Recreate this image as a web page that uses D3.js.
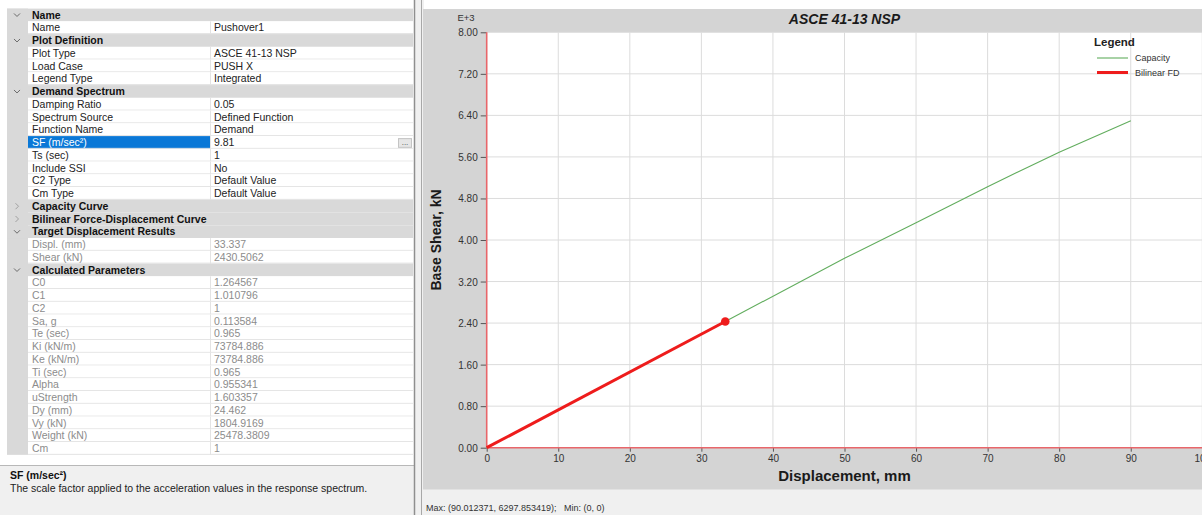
<!DOCTYPE html>
<html>
<head>
<meta charset="utf-8">
<script src="https://cdn.jsdelivr.net/npm/d3@7"></script>
<style>
  html, body { margin: 0; padding: 0; background: #ffffff; }
  svg { display: block; font-family: "Liberation Sans", Arial, sans-serif; }
</style>
</head>
<body>
<svg id="app" width="1202" height="515"></svg>
<script>
// ---- Property grid contents ----
const nameRows = [["Name", "Pushover1"]];
const plotDefRows = [["Plot Type", "ASCE 41-13 NSP"], ["Load Case", "PUSH X"], ["Legend Type", "Integrated"]];
const demandRows = [
  ["Damping Ratio", "0.05"], ["Spectrum Source", "Defined Function"], ["Function Name", "Demand"],
  ["SF (m/sec²)", "9.81"], ["Ts (sec)", "1"], ["Include SSI", "No"],
  ["C2 Type", "Default Value"], ["Cm Type", "Default Value"]
];
const targetRows = [["Displ. (mm)", "33.337"], ["Shear (kN)", "2430.5062"]];
const calcRows = [
  ["C0", "1.264567"], ["C1", "1.010796"], ["C2", "1"], ["Sa, g", "0.113584"], ["Te (sec)", "0.965"],
  ["Ki (kN/m)", "73784.886"], ["Ke (kN/m)", "73784.886"], ["Ti (sec)", "0.965"], ["Alpha", "0.955341"],
  ["uStrength", "1.603357"], ["Dy (mm)", "24.462"], ["Vy (kN)", "1804.9169"], ["Weight (kN)", "25478.3809"], ["Cm", "1"]
];
const selectedProperty = "SF (m/sec²)";

// ---- Chart data ----
const capacityDispl = [0, 10, 20, 33.337, 50, 60, 70, 74.3, 80, 90.012371];
const capacityShear = [0, 729, 1458, 2430.5062, 3647, 4330, 5026, 5315, 5690, 6297.853419];
const bilinearDispl = [0, 33.337];
const bilinearShear = [0, 2430.5062];
const targetPoint = [33.337, 2430.5062];
const xTicks = [0, 10, 20, 30, 40, 50, 60, 70, 80, 90, 100];
const yTicks = [0, 800, 1600, 2400, 3200, 4000, 4800, 5600, 6400, 7200, 8000];

const svg = d3.select("#app");

// ================= Property grid (left pane) =================
const grid = svg.append("g");
const rowH = 12.75, top0 = 8.6, nameX = 32, valX = 210, gridRight = 413;
const headerFill = "#d9d9d9";

const groups = [
  { title: "Name", rows: nameRows, open: true },
  { title: "Plot Definition", rows: plotDefRows, open: true },
  { title: "Demand Spectrum", rows: demandRows, open: true },
  { title: "Capacity Curve", rows: [], open: false },
  { title: "Bilinear Force-Displacement Curve", rows: [], open: false },
  { title: "Target Displacement Results", rows: targetRows, open: true, readOnly: true },
  { title: "Calculated Parameters", rows: calcRows, open: true, readOnly: true }
];

const lines = [];
groups.forEach(g => {
  lines.push({ kind: "header", text: g.title, open: g.open });
  g.rows.forEach(r => lines.push({ kind: "row", name: r[0], value: r[1], readOnly: !!g.readOnly }));
});

// gutter strip
grid.append("rect").attr("x", 7).attr("y", top0).attr("width", 21)
  .attr("height", lines.length * rowH).attr("fill", headerFill);

lines.forEach((ln, i) => {
  const y = top0 + i * rowH;
  const cy = y + rowH / 2 + 3.6;
  if (ln.kind === "header") {
    grid.append("rect").attr("x", 7).attr("y", y).attr("width", gridRight - 7).attr("height", rowH).attr("fill", headerFill);
    // chevron
    const cx = 17, my = y + rowH / 2;
    grid.append("path")
      .attr("d", ln.open ? `M${cx - 3},${my - 1.5} L${cx},${my + 1.5} L${cx + 3},${my - 1.5}`
                         : `M${cx - 1.5},${my - 3} L${cx + 1.5},${my} L${cx - 1.5},${my + 3}`)
      .attr("fill", "none").attr("stroke", ln.open ? "#6a6a6a" : "#a0a0a0").attr("stroke-width", 1);
    grid.append("text").attr("x", nameX).attr("y", cy).attr("font-size", 10.5).attr("font-weight", "bold")
      .attr("fill", "#111").text(ln.text);
  } else {
    const sel = ln.name === selectedProperty;
    grid.append("rect").attr("x", 28).attr("y", y).attr("width", gridRight - 28).attr("height", rowH).attr("fill", "#ffffff");
    if (sel) grid.append("rect").attr("x", 28).attr("y", y).attr("width", valX - 28).attr("height", rowH).attr("fill", "#0a78d7");
    grid.append("line").attr("x1", 28).attr("x2", gridRight).attr("y1", y + rowH - 0.5).attr("y2", y + rowH - 0.5)
      .attr("stroke", "#e3e3e3");
    grid.append("line").attr("x1", valX + 0.5).attr("x2", valX + 0.5).attr("y1", y).attr("y2", y + rowH)
      .attr("stroke", "#e3e3e3");
    const txtFill = sel ? "#ffffff" : (ln.readOnly ? "#8c8c8c" : "#222");
    grid.append("text").attr("x", nameX).attr("y", cy).attr("font-size", 10.5).attr("fill", txtFill).text(ln.name);
    grid.append("text").attr("x", valX + 4).attr("y", cy).attr("font-size", 10.5)
      .attr("fill", ln.readOnly ? "#8c8c8c" : "#222").text(ln.value);
    if (sel) {
      grid.append("rect").attr("x", 398.5).attr("y", y + 2.5).attr("width", 13).attr("height", rowH - 4)
        .attr("fill", "#e6e6e6").attr("stroke", "#c4c4c4");
      grid.append("text").attr("x", 405).attr("y", y + rowH - 3.5).attr("font-size", 8).attr("text-anchor", "middle")
        .attr("fill", "#444").text("...");
    }
  }
});

// description box
grid.append("rect").attr("x", 0).attr("y", 465).attr("width", 414).attr("height", 50).attr("fill", "#f0f0f0");
grid.append("line").attr("x1", 0).attr("x2", 414).attr("y1", 465.5).attr("y2", 465.5).attr("stroke", "#b8b8b8");
grid.append("text").attr("x", 10).attr("y", 479).attr("font-size", 10.5).attr("font-weight", "bold").attr("fill", "#111")
  .text("SF (m/sec²)");
grid.append("text").attr("x", 10).attr("y", 492).attr("font-size", 10.5).attr("fill", "#222")
  .text("The scale factor applied to the acceleration values in the response spectrum.");

// splitter
svg.append("rect").attr("x", 414).attr("y", 0).attr("width", 10).attr("height", 515).attr("fill", "#f0f0f0");
svg.append("line").attr("x1", 414.5).attr("x2", 414.5).attr("y1", 0).attr("y2", 515).attr("stroke", "#8f8f8f").attr("stroke-width", 1.5);
svg.append("line").attr("x1", 421.5).attr("x2", 421.5).attr("y1", 0).attr("y2", 515).attr("stroke", "#a8a8a8");

// ================= Chart (right pane) =================
const chart = svg.append("g");
chart.append("rect").attr("x", 423).attr("y", 9).attr("width", 779).attr("height", 481).attr("fill", "#d4d4d4");
chart.append("rect").attr("x", 423).attr("y", 490).attr("width", 779).attr("height", 25).attr("fill", "#f0f0f0");
chart.append("line").attr("x1", 423).attr("x2", 1202).attr("y1", 489.5).attr("y2", 489.5).attr("stroke", "#e2e2e2");

const x = d3.scaleLinear().domain([0, 100]).range([486.7, 1202.3]);
const y = d3.scaleLinear().domain([0, 8000]).range([447.7, 32.3]);

chart.append("rect").attr("x", x(0)).attr("y", y(8000)).attr("width", x(100) - x(0)).attr("height", y(0) - y(8000))
  .attr("fill", "#ffffff");

// grid lines
chart.append("g").selectAll("line").data(xTicks.slice(1)).join("line")
  .attr("x1", d => x(d)).attr("x2", d => x(d)).attr("y1", y(8000)).attr("y2", y(0))
  .attr("stroke", "#dcdcdc").attr("stroke-width", 1);
chart.append("g").selectAll("line").data(yTicks.slice(1)).join("line")
  .attr("x1", x(0)).attr("x2", x(100)).attr("y1", d => y(d)).attr("y2", d => y(d))
  .attr("stroke", "#dcdcdc").attr("stroke-width", 1);

// axes
const yAxis = d3.axisLeft(y).tickValues(yTicks).tickSize(6).tickPadding(3)
  .tickFormat(d => (d / 1000).toFixed(2));
const xAxis = d3.axisBottom(x).tickValues(xTicks).tickSize(4).tickPadding(3);

const gy = chart.append("g").attr("transform", `translate(${x(0)},0)`).call(yAxis);
const gx = chart.append("g").attr("transform", `translate(0,${y(0)})`).call(xAxis);
[gx, gy].forEach(g => {
  g.select(".domain").remove();
  g.selectAll(".tick line").attr("stroke", "#555");
  g.selectAll(".tick text").attr("fill", "#333").attr("font-size", 10).attr("font-family", "'Liberation Sans', Arial, sans-serif");
});
gy.selectAll(".tick text").attr("dy", "0.35em");

// red axis lines
chart.append("line").attr("x1", x(0)).attr("x2", x(0)).attr("y1", y(8000)).attr("y2", y(0))
  .attr("stroke", "#e8666a").attr("stroke-width", 1.6);
chart.append("line").attr("x1", x(0)).attr("x2", x(100)).attr("y1", y(0)).attr("y2", y(0))
  .attr("stroke", "#e8666a").attr("stroke-width", 1.6);

// exponent label
chart.append("text").attr("x", 466).attr("y", 21).attr("font-size", 9.5).attr("text-anchor", "middle")
  .attr("fill", "#333").text("E+3");

// title
chart.append("text").attr("x", 844.5).attr("y", 23.5).attr("font-size", 14).attr("font-weight", "bold")
  .attr("font-style", "italic").attr("text-anchor", "middle").attr("fill", "#1a1a1a").text("ASCE 41-13 NSP");

// axis titles
chart.append("text").attr("transform", `translate(441,${(y(0) + y(8000)) / 2}) rotate(-90)`)
  .attr("font-size", 14).attr("font-weight", "bold").attr("text-anchor", "middle").attr("fill", "#1a1a1a")
  .text("Base Shear, kN");
chart.append("text").attr("x", 844.5).attr("y", 481).attr("font-size", 15).attr("font-weight", "bold")
  .attr("text-anchor", "middle").attr("fill", "#1a1a1a").text("Displacement, mm");

// series
const line = d3.line().x(d => x(d[0])).y(d => y(d[1]));
const capacity = capacityDispl.map((d, i) => [d, capacityShear[i]]);
const bilinear = bilinearDispl.map((d, i) => [d, bilinearShear[i]]);

chart.append("path").datum(capacity).attr("d", line).attr("fill", "none")
  .attr("stroke", "#62ad5e").attr("stroke-width", 1.1);
chart.append("path").datum(bilinear).attr("d", line).attr("fill", "none")
  .attr("stroke", "#ee1c1c").attr("stroke-width", 3);
chart.append("circle").attr("cx", x(targetPoint[0])).attr("cy", y(targetPoint[1])).attr("r", 4.3)
  .attr("fill", "#ee1c1c");

// legend
const legend = chart.append("g");
legend.append("text").attr("x", 1094).attr("y", 46).attr("font-size", 11.5).attr("font-weight", "bold")
  .attr("fill", "#222").text("Legend");
const legendItems = [
  { label: "Capacity", color: "#62ad5e", width: 1.1 },
  { label: "Bilinear FD", color: "#ee1c1c", width: 3 }
];
legendItems.forEach((it, i) => {
  const ly = 58 + i * 14.5;
  legend.append("line").attr("x1", 1097).attr("x2", 1128).attr("y1", ly).attr("y2", ly)
    .attr("stroke", it.color).attr("stroke-width", it.width);
  legend.append("text").attr("x", 1135).attr("y", ly + 3).attr("font-size", 9).attr("fill", "#333").text(it.label);
});

// status line
chart.append("text").attr("x", 426).attr("y", 511).attr("font-size", 9).attr("fill", "#333")
  .text("Max: (90.012371, 6297.853419);   Min: (0, 0)").attr("xml:space", "preserve").style("white-space", "pre");
</script>
</body>
</html>
